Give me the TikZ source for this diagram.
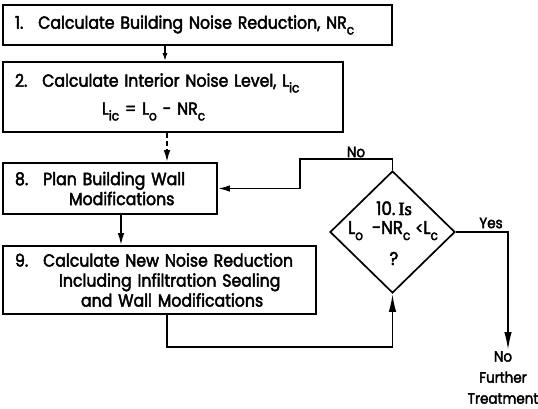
\documentclass[tikz,border=0pt]{standalone}
\usepackage{fontspec}
\setmainfont{Poppins}[FakeBold=2.5,FakeStretch=0.9]
\newfontfamily\serifff{Liberation Serif}[FakeBold=2.5]
\usetikzlibrary{arrows.meta,shapes.geometric}
\newcommand{\lo}[1]{\raisebox{-0.6ex}{\fontsize{13.5}{13.5}\selectfont #1}}
\newcommand{\num}[1]{#1.\hspace{0.85em}}
\begin{document}
\begin{tikzpicture}[x=1pt,y=-1pt,
  every node/.style={font=\fontsize{17.5}{20}\selectfont},
  small/.style={font=\fontsize{15}{21}\selectfont},
  dia/.style={font=\fontsize{18.5}{19}\selectfont, inner sep=0pt, anchor=base},
  box/.style={draw, line width=1.7pt, inner sep=0pt, align=left},
  conn/.style={line width=1.7pt},
  arr/.style={conn, -{Latex[length=12pt,width=6.5pt]}},
  arrl/.style={conn, -{Latex[length=18pt,width=7.5pt]}},
  lbl/.style={inner sep=0pt}]
\useasboundingbox (0,0) rectangle (538,408);

\node[box, minimum width=389pt, minimum height=40pt, text width=365pt] (b1) at (197.5,25)
  {\mbox{\num{1}Calculate Building Noise Reduction, NR\lo{c}}};
\node[box, minimum width=340pt, minimum height=70pt, text width=316pt] (b2) at (173,97)
  {\mbox{\num{2}Calculate Interior Noise Level, L\lo{ic}}\\[8pt]
   \mbox{\hspace*{87pt}L\lo{ic} = L\lo{o} - NR\lo{c}}};
\node[box, minimum width=214pt, minimum height=51pt, text width=190pt] (b8) at (110,188.5)
  {\mbox{\num{8}Plan Building Wall}\\\mbox{\hspace*{54pt}Modifications}};
\node[box, minimum width=313pt, minimum height=68pt, text width=289pt] (b9) at (159.5,280)
  {\mbox{\num{9}Calculate New Noise Reduction}\\\mbox{\hspace*{44pt}Including Infiltration Sealing}\\\mbox{\hspace*{66pt}and Wall Modifications}};

\node[draw, diamond, line width=1.7pt, minimum width=125pt, minimum height=122pt, inner sep=0pt] (d) at (392.5,232) {};
\node[dia] (dt1) at (394,215) {10.\,{\serifff Is}};
\node[dia] (dt2) at (393,234) {L\lo{o}\hspace{9pt}-NR\lo{c}\hspace{5pt}{\fontsize{16}{16}\selectfont<}L\lo{c}};
\node[dia] (dt3) at (394,265) {?};

\coordinate (x1) at (165,0);
\coordinate (x2) at (167,0);
\coordinate (x3) at (121,0);
\coordinate (ybot) at (0,347);
\coordinate (ytop) at (0,159);
\coordinate (xno) at (300,0);
\coordinate (xyes) at (508,0);
\coordinate (yend) at (0,350);

\draw[conn, -{Latex[length=8pt,width=5pt]}] (x1 |- b1.south) -- (x1 |- b2.north);
\draw[arr, dashed, dash pattern=on 5pt off 3pt] (x2 |- b2.south) -- (x2 |- b8.north);
\draw[arr] (x3 |- b8.south) -- (x3 |- b9.north);
\draw[arrl] (x2 |- b9.south) -- (x2 |- ybot) -- (d.south |- ybot) -- (d.south);
\draw[arr] (d.north) -- (d.north |- ytop) -- (xno |- ytop) -- (xno |- b8.east) -- (b8.east);
\draw[arrl] (d.east) -- (xyes |- d.east) -- (xyes |- yend);

\node[lbl, small] (no) at (356,152) {No};
\node[lbl, small] (yes) at (491,223) {Yes};
\node[lbl, small, align=center, anchor=north] (nft) at (503,351) {No\\Further\\Treatment};
\end{tikzpicture}
\end{document}
